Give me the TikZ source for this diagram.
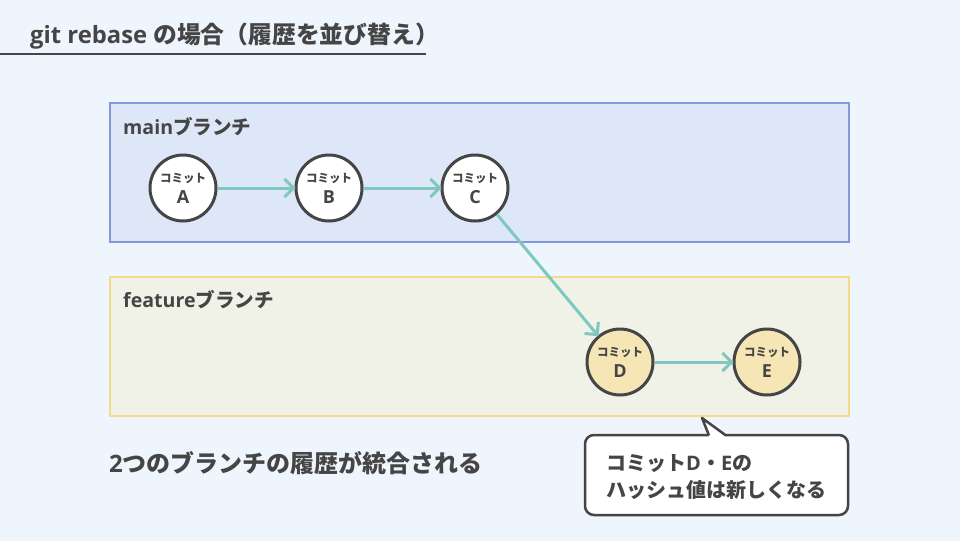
\documentclass[tikz,border=0pt]{standalone}
\usepackage{fontspec}
\setmainfont{Noto Sans CJK JP}
\newfontfamily\latn{Open Sans}
\usetikzlibrary{arrows.meta}
\definecolor{bg}{HTML}{EEF5FC}
\definecolor{ink}{HTML}{454545}
\definecolor{mainfill}{HTML}{DDE7F7}
\definecolor{mainline}{HTML}{8399DD}
\definecolor{featfill}{HTML}{F0F2E8}
\definecolor{featline}{HTML}{F3DB8A}
\definecolor{teal}{HTML}{7FC8BF}
\definecolor{dfill}{HTML}{F7E6B5}
\tikzset{
  commit/.style={circle, draw=ink, line width=3pt, minimum size=66pt, inner sep=0pt, fill=white, align=center, text=ink, font=\bfseries\fontsize{18}{22}\selectfont},
  featcommit/.style={commit, fill=dfill},
  link/.style={draw=teal, line width=3pt, shorten >=-1pt, -{Straight Barb[length=9pt,width=18pt,line width=3pt]}},
  label/.style={anchor=west, text=ink, font=\bfseries\fontsize{19.6}{22}\selectfont, inner sep=0pt},
}
\newcommand{\cmlabel}[1]{{\fontsize{11.5}{13}\selectfont コミット}\\[-1pt]{\latn\bfseries #1}}
\begin{document}
\begin{tikzpicture}[x=1pt,y=-1pt]
\fill[bg] (0,0) rectangle (960,541);
\useasboundingbox (0,0) rectangle (960,541);
% title
\node[label, font=\bfseries\fontsize{23.8}{26}\selectfont] (title) at (30,36) {{\latn\bfseries git rebase }の場合（履歴を並び替え）};
\coordinate (ul0) at (0,54);
\coordinate (ul1) at (426,54);
\draw[ink, line width=2pt] (ul0) -- (ul1);
% boxes
\draw[fill=mainfill, draw=mainline, line width=1.5pt] (110,103) rectangle (849,242);
\node[label] (mainlbl) at (123,127) {{\latn\bfseries main}ブランチ};
\draw[fill=featfill, draw=featline, line width=1.5pt] (110,277) rectangle (849,416);
\node[label] (featlbl) at (123,300) {{\latn\bfseries feature}ブランチ};
% commits
\node[commit] (A) at (183,188) {\cmlabel{A}};
\node[commit] (B) at (329,188) {\cmlabel{B}};
\node[commit] (C) at (475,188) {\cmlabel{C}};
\node[featcommit] (D) at (620,362) {\cmlabel{D}};
\node[featcommit] (E) at (767,362) {\cmlabel{E}};
\draw[link] (A) -- (B);
\draw[link] (B) -- (C);
\draw[link] (C) -- (D);
\draw[link] (D) -- (E);
% bottom text
\node[label, font=\bfseries\fontsize{24}{26}\selectfont] (summary) at (109,463) {{\latn\bfseries 2}つのブランチの履歴が統合される};
% callout
\draw[fill=white, draw=ink, line width=2.5pt, rounded corners=9pt] (585,435) rectangle (848,515);
\fill[white] (709,437) -- (702,418) -- (726,437) -- cycle;
\draw[ink, line width=2.5pt, line join=round] (709,435.5) -- (702,418) -- (726,435.5);
\node[label, font=\bfseries\fontsize{20}{22}\selectfont] (note1) at (606,464) {コミット{\latn\bfseries D}・{\latn\bfseries E}の};
\node[label, font=\bfseries\fontsize{20}{22}\selectfont] (note2) at (606,490) {ハッシュ値は新しくなる};
\end{tikzpicture}
\end{document}
